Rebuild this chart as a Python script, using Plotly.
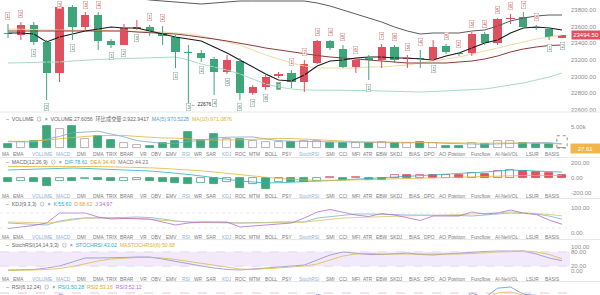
import plotly.graph_objects as go

# ---------------- data ----------------
opens  = [23524,23500,23620,23416,23044,23836,23596,23740,23428,23380,23572,23596,23524,23476,23296,23284,23212,23056,23188,22804,22876,23008,23044,22936,23164,23428,23332,23116,23212,23200,23356,23212,23224,23212,23368,23284,23284,23512,23404,23692,23716,23596,23572,23470]
closes = [23512,23620,23416,23044,23836,23596,23740,23428,23380,23584,23596,23536,23488,23296,23284,23224,23056,23200,22804,22876,22996,23032,22936,23152,23428,23344,23116,23200,23206,23356,23200,23224,23212,23356,23296,23272,23512,23404,23692,23704,23596,23584,23476,23494.5]
highs  = [23632,23656,23656,23440,23884,23860,23776,23776,23452,23632,23680,23620,23608,23500,23380,23320,23236,23260,23224,22900,23020,23056,23080,23200,23440,23440,23380,23224,23260,23392,23380,23260,23320,23440,23392,23296,23536,23536,23704,23752,23776,23620,23596,23500]
lows   = [23464,23440,23380,22720,22936,23440,23536,23320,23344,23380,23560,23488,23380,23104,22676,23176,22780,23032,22720,22780,22840,22984,22864,22816,23152,23320,23104,23044,22960,23104,23164,23104,23104,23188,23272,23248,23248,23380,23380,23632,23584,23560,23440,23460]

boll_up  = [23944,23944,23956,23968,23968,23968,23968,23956,23956,23944,23944,23920,23908,23896,23884,23872,23884,23896,23908,23908,23908,23908,23908,23908,23884,23848,23800,23752,23704,23656,23596,23548,23512,23524,23524,23524,23548,23560,23608,23668,23704,23728,23740,23740]
boll_mid = [23548,23548,23548,23542,23548,23548,23548,23548,23548,23548,23536,23530,23524,23512,23494,23476,23452,23428,23404,23374,23344,23320,23296,23272,23254,23236,23224,23212,23200,23188,23176,23164,23164,23164,23164,23176,23188,23212,23248,23296,23332,23356,23374,23380]
boll_dn  = [23164,23164,23170,23176,23176,23188,23200,23206,23212,23218,23224,23224,23230,23236,23200,23152,23116,23080,23032,22972,22912,22876,22852,22840,22840,22840,22840,22840,22834,22828,22822,22816,22816,22822,22828,22834,22840,22852,22876,22900,22924,22960,22996,23044]
ma_fast  = [23524,23524,23512,23416,23476,23512,23548,23572,23596,23584,23584,23548,23512,23476,23452,23428,23356,23284,23200,23116,23032,22960,22948,23020,23128,23188,23200,23224,23236,23236,23224,23224,23212,23200,23248,23284,23344,23404,23440,23524,23584,23596,23584,23560]
ma_slow  = [23572,23572,23566,23560,23560,23560,23560,23554,23554,23548,23548,23542,23536,23524,23512,23488,23452,23416,23380,23320,23260,23212,23164,23128,23104,23104,23104,23104,23116,23116,23128,23140,23164,23188,23212,23236,23272,23308,23344,23380,23416,23452,23476,23500]

td_idx  = list(range(44))
td_text = ["1","2","1","2","3","1","3","4","1","2","3","1","2","1","3","2","4","5","6","7","8","9","1","2","3","4","5","6","1","7","8","3","4","1","5","2","3","4","5","6","7","8","1","2"]
td_side = ["a","a","b","b","a","b","a","a","b","b","b","a","a","b","b","b","b","b","b","b","b","b","a","a","a","a","a","a","b","a","a","a","a","b","a","a","a","a","a","a","a","a","b","b"]

volume   = [950,1430,1670,5240,4520,5240,2140,2860,1900,1190,710,480,1190,1670,3810,1900,3330,2140,2140,1670,1430,1430,1430,1670,1670,1190,1190,1190,1190,1430,1190,1190,1430,1190,480,480,1190,950,1670,1670,1190,950,950,27.6056]
vol_proj = 2922.9417
vol_ma5  = [1500,1400,1450,2100,2760,3620,3760,4000,3330,2660,1760,1430,1090,1050,1570,1810,2370,2570,2660,2640,2140,1760,1620,1530,1530,1480,1430,1380,1290,1240,1240,1240,1290,1290,1100,950,950,860,950,1190,1290,1290,1290,970.5228]
vol_ma10 = [1600,1600,1600,1900,2200,2600,2750,2950,3000,3000,2750,2500,2400,2350,2100,1950,1900,1850,1950,2060,2250,2300,2250,2200,2000,1800,1600,1500,1450,1400,1360,1310,1330,1290,1250,1180,1180,1150,1170,1250,1200,1120,1100,971.0876]

macd_dif  = [107,112,117,123,128,133,128,123,117,112,107,93,80,67,47,27,4,-17,-40,-53,-67,-63,-57,-53,-44,-36,-27,-16,-7,4,13,23,31,40,49,57,67,80,93,107,100,93,87,78.61]
macd_dea  = [153,153,156,160,160,160,157,153,149,147,141,136,128,120,109,96,80,63,43,24,7,-7,-17,-27,-31,-32,-31,-27,-21,-16,-11,-4,1,7,12,16,20,24,27,31,33,34.5,34.5,34.49]
macd_hist = [-53,-40,-53,-107,-40,-40,-9,-27,-40,-35,-30,-38,-53,-67,-80,-67,-80,-53,-133,-80,-147,-53,-53,-53,-40,7,-27,13,-27,-27,40,36,42,38,40,38,67,53,87,107,93,80,67,44.23]

kdj_k = [40,38,36,32,48,56,60,60,60,62,64,62,56,48,44,44,44,42,40,40,42,44,44,44,60,66,72,76,76,74,72,72,72,72,72,70,68,72,76,80,78,76,68,55.60]
kdj_d = [44,42,42,40,44,52,60,60,60,60,58,54,50,46,44,42,40,40,40,40,40,40,42,44,50,56,60,62,64,66,68,68,70,70,72,72,74,76,80,84,82,78,74,68.62]
kdj_j = [18,24,30,40,80,80,80,64,56,58,58,56,44,32,40,44,44,44,24,28,32,36,40,60,84,94,84,72,66,78,72,60,50,68,68,68,84,76,80,92,80,74,52,34.97]

stoch_rsi   = [4.2,4.2,6.3,12.5,20.8,37.5,54.2,54.2,54.2,56.3,58.3,58.3,50,39.6,31.3,20.8,12.5,6.3,4.2,8.3,12.5,16.7,20.8,25,45.8,66.7,79.2,75,68.8,68.8,72.9,75,68.8,66.7,70.8,75,77.1,81.3,83.3,83.3,83.3,70.8,54.2,43.02]
stoch_rsi_m = [2.1,2.1,4.2,6.3,10.4,18.8,31.3,41.7,50,54.2,56.3,56.3,54.2,47.9,39.6,31.3,22.9,14.6,8.3,6.3,8.3,12.5,16.7,20.8,29.2,45.8,62.5,70.8,72.9,70.8,70.8,70.8,70.8,68.8,68.8,70.8,72.9,77.1,79.2,81.3,83.3,79.2,68.8,50.68]

rsi1 = [55,58,52,40,68,62,66,55,52,60,60,55,52,42,40,38,32,45,30,38,45,48,42,55,68,62,52,56,55,62,52,55,54,62,56,55,70,62,78,80,68,66,55,50.28]
rsi2 = [54,55,53,46,60,58,60,55,53,57,57,55,53,47,45,43,38,44,36,40,44,46,44,51,60,58,53,55,54,58,53,54,54,58,55,55,64,60,70,72,66,64,58,53.16]
rsi3 = [53,54,53,49,56,55,57,54,53,55,55,54,53,49,48,47,44,46,42,43,45,46,45,49,54,54,52,53,53,55,53,53,53,55,54,54,59,57,63,65,62,61,57,52.12]

price_ticks = [23800, 23600, 23400, 23200, 23000, 22800, 22600]
tabs = ["MA","EMA","VOLUME","MACD","DMI","DMA","TRIX","BRAR","VR","OBV","EMV","RSI","WR","SAR","KDJ","ROC","MTM","BOLL","PSY","StochRSI","SMI","CCI","MFI","ATR","EBW","SKDJ","BIAS","DPO","AO","Position","Funcflow","AI-NetVOL","LSUR","BASIS"]
active_tabs = {"VOLUME","MACD","RSI","KDJ","StochRSI"}

# ---------------- styling / layout helpers ----------------
H = 295
PW = 570
RED = "#e0505e"
GREEN = "#3fa57a"
TEAL = "#2aaec4"
YEL = "#e3b23c"
PUR = "#b36ad6"
FONT = "Liberation Sans, Arial, Noto Sans CJK SC, sans-serif"
tab_cx = [6,18,42,63,81,98,112,127,143,156,171,186,198,211,227,240,254,271,287,309,330,343,356,368,381,397,414,429,442,456,481,507,532,552]

def dom(top, bot):
    return [1 - bot / H, 1 - top / H]

def rng(top, bot, v1, p1, v2, p2):
    k = (p2 - p1) / (v2 - v1)
    return [v1 + (bot - p1) / k, v1 + (top - p1) / k]

n = len(opens)
idx = list(range(n))
up = [c >= o for o, c in zip(opens, closes)]

fig = go.Figure()

for ser, col, w in ((boll_up, "#5b5b5b", 1), (boll_dn, "#a8dcc4", 1), (ma_slow, "#f1d9a0", 1),
                    (boll_mid, "#8b3a3a", 1), (ma_fast, "#1a1a1a", 1.1)):
    fig.add_trace(go.Scatter(x=idx, y=ser, mode="lines", line=dict(color=col, width=w),
                             xaxis="x", yaxis="y", hoverinfo="skip"))

# candle wicks and bodies
for flag, col in ((True, RED), (False, GREEN)):
    wx, wy = [], []
    for i in idx:
        if up[i] == flag:
            wx += [i, i, None]
            wy += [lows[i], highs[i], None]
    fig.add_trace(go.Scatter(x=wx, y=wy, mode="lines", line=dict(color=col, width=1),
                             xaxis="x", yaxis="y", hoverinfo="skip"))
fig.add_trace(go.Bar(
    x=idx, base=[min(o, c) for o, c in zip(opens, closes)],
    y=[max(abs(c - o), 10) for o, c in zip(opens, closes)],
    width=0.64, marker=dict(color=[RED if u else GREEN for u in up], line=dict(width=0)),
    xaxis="x", yaxis="y", hoverinfo="skip"))

# volume
fig.add_trace(go.Bar(
    x=idx, y=volume, width=0.62,
    marker=dict(color=["rgba(255,255,255,0)" if u else GREEN for u in up],
                line=dict(color=["#a99" if u else GREEN for u in up], width=0.8)),
    xaxis="x2", yaxis="y2", hoverinfo="skip"))
fig.add_trace(go.Scatter(x=idx, y=vol_ma5, mode="lines", line=dict(color="#7fa6c9", width=0.8), xaxis="x2", yaxis="y2"))
fig.add_trace(go.Scatter(x=idx, y=vol_ma10, mode="lines", line=dict(color=YEL, width=0.8), xaxis="x2", yaxis="y2"))

# MACD
hist_fill, hist_line = [], []
for i, h in enumerate(macd_hist):
    col = RED if h >= 0 else GREEN
    rising = i > 0 and h > macd_hist[i - 1]
    hist_fill.append("rgba(255,255,255,0)" if rising else col)
    hist_line.append(col)
fig.add_trace(go.Bar(x=idx, y=macd_hist, width=0.62,
                     marker=dict(color=hist_fill, line=dict(color=hist_line, width=0.8)),
                     xaxis="x3", yaxis="y3", hoverinfo="skip"))
fig.add_trace(go.Scatter(x=idx, y=macd_dif, mode="lines", line=dict(color=TEAL, width=0.8), xaxis="x3", yaxis="y3"))
fig.add_trace(go.Scatter(x=idx, y=macd_dea, mode="lines", line=dict(color=YEL, width=0.8), xaxis="x3", yaxis="y3"))

# KDJ
for ser, col in ((kdj_k, "#7fb3c8"), (kdj_d, "#d9c36a"), (kdj_j, PUR)):
    fig.add_trace(go.Scatter(x=idx, y=ser, mode="lines", line=dict(color=col, width=0.8), xaxis="x4", yaxis="y4"))
# StochRSI
for ser, col in ((stoch_rsi, "#8f8fc8"), (stoch_rsi_m, "#e0b84a")):
    fig.add_trace(go.Scatter(x=idx, y=ser, mode="lines", line=dict(color=col, width=0.8), xaxis="x5", yaxis="y5"))
# RSI
for ser, col in ((rsi1, "#6a8fd0"), (rsi2, YEL), (rsi3, PUR)):
    fig.add_trace(go.Scatter(x=idx, y=ser, mode="lines", line=dict(color=col, width=0.8), xaxis="x6", yaxis="y6"))

# ---------------- axes ----------------
panels = [
    ("", [0, 112], (23800, 10, 22600, 110), price_ticks, [f"{v:.2f}" for v in price_ticks]),
    ("2", [112, 153], (5000, 127, 0, 148), [5000], ["5.00k"]),
    ("3", [158, 195], (200, 163, 0, 178), [200, 0, -200], ["200.00", "0.00", "-200.00"]),
    ("4", [199, 236], (100, 208, 0, 233), [100, 0], ["100.00", "0.00"]),
    ("5", [240, 277], (100, 247, 0, 271), [100, 80, 20, 0], ["100.00", "80.00", "20.00", "0.00"]),
    ("6", [282, 295], (70, 293, 30, 317), [70], ["70.00"]),
]
layout = {}
main_range = None
for suf, (t, b), ref, tv, tt in panels:
    r = rng(t, b, *ref)
    if suf == "":
        main_range = r
    layout["xaxis" + suf] = dict(range=[-0.62, 43.62], visible=False, domain=[0, 1],
                                 anchor="y" + suf, **({} if suf == "" else {"matches": "x"}))
    layout["yaxis" + suf] = dict(domain=dom(t, b), range=r, side="right",
                                 anchor="x" + suf, showgrid=False, zeroline=False, showline=False,
                                 ticks="", tickvals=tv, ticktext=tt, fixedrange=True,
                                 tickfont=dict(size=6, color="#8c8c8c", family=FONT))

def main_px(v):
    lo, hi = main_range
    return (hi - v) / (hi - lo) * 112

shapes = []
for ypx in (112, 157.5, 198.5, 239.5, 281.5):
    shapes.append(dict(type="line", xref="paper", yref="paper", x0=0, x1=600 / PW,
                       y0=1 - ypx / H, y1=1 - ypx / H, line=dict(color="#e8e8e8", width=1)))
shapes.append(dict(type="rect", xref="x5", yref="y5", x0=-0.62, x1=43.62, y0=20, y1=80,
                   fillcolor="#f2eafb", line=dict(width=0), layer="below"))
for v in (80, 20):
    shapes.append(dict(type="line", xref="x5", yref="y5", x0=-0.62, x1=43.62, y0=v, y1=v,
                       line=dict(color="#d9c9ef", width=0.6, dash="dash")))
    shapes.append(dict(type="line", xref="x4", yref="y4", x0=-0.62, x1=43.62, y0=v, y1=v,
                       line=dict(color="#dddddd", width=0.6, dash="dot")))
shapes.append(dict(type="line", xref="x6", yref="y6", x0=-0.62, x1=43.62, y0=70, y1=70,
                   line=dict(color="#e3a6c8", width=0.7, dash="dash")))
shapes.append(dict(type="rect", xref="x2", yref="y2", x0=n - 1 - 0.4, x1=n - 1 + 0.4, y0=0, y1=vol_proj,
                   line=dict(color="#777", width=0.8, dash="dot")))

ann = []
def px_x(x):
    return x / PW
def px_y(y):
    return 1 - y / H

# TD count labels (kept inside the price pane)
for i, t, s in zip(td_idx, td_text, td_side):
    above = s == "a"
    filled = (t == "9")
    v = highs[i] if above else lows[i]
    shift = 8 if above else -8
    centre = main_px(v) - shift
    if centre < 5:
        shift = main_px(v) - 5
    if centre > 107:
        shift = main_px(v) - 107
    ann.append(dict(x=i, y=v, xref="x", yref="y", text=t, showarrow=False,
                    yshift=shift, font=dict(size=5, family=FONT,
                    color="#fff" if filled else ("#c0504d" if above else "#4e8f78")),
                    bgcolor=GREEN if filled else "#ffffff",
                    bordercolor="#e2a3a3" if above else "#9fb8ae", borderwidth=0.6, borderpad=0.6))
low_i = lows.index(min(lows))
ann.append(dict(x=low_i, y=lows[low_i], xref="x", yref="y", text="← " + str(int(min(lows))),
                showarrow=False, xanchor="left", xshift=1, font=dict(size=5, color="#333", family=FONT)))

# price / volume labels
ann.append(dict(x=1, y=closes[-1], xref="paper", yref="y", text=f"{closes[-1]:.2f}", showarrow=False,
                xanchor="left", xshift=1, font=dict(size=6, color="#fff", family=FONT),
                bgcolor=RED, borderpad=1.2))
ann.append(dict(x=1, y=0, xref="paper", yref="y2", text=f"{volume[-1]:.2f}", showarrow=False,
                xanchor="left", xshift=0, font=dict(size=6, color="#fff", family=FONT),
                bgcolor="#f0b64a", borderpad=1.5, width=26))

# tab rows
for ypx in (154.5, 196, 237.5, 279):
    for name, cx in zip(tabs, tab_cx):
        ann.append(dict(x=px_x(cx), y=px_y(ypx), xref="paper", yref="paper", text=name, showarrow=False,
                        xanchor="center", yanchor="middle",
                        font=dict(size=4.8, family=FONT, color="#8fb0d3" if name in active_tabs else "#7a7a7a")))

def span(t, c):
    return f"<span style='color:{c}'>{t}</span>"

headers = [
    (119, span("–  VOLUME  ⊙  ×", "#666") + "  " + span("VOLUME:27.6056", "#666") + "  " +
          span("环比成交量:2,922.9417", "#666") + "  " + span("MA(5):970.5228", "#4f9fc9") + "  " +
          span("MA(10):971.0876", YEL)),
    (162, span("–  MACD(12,26,9)  ⊙  ×", "#666") + "  " + span("DIF:78.61", TEAL) + "  " +
          span("DEA:34.49", "#e0a030") + "  " + span("MACD:44.23", "#777")),
    (204, span("–  KDJ(9,3,3)  ⊙  ×", "#666") + "  " + span("K:55.60", TEAL) + "  " +
          span("D:68.62", "#e0a030") + "  " + span("J:34.97", PUR)),
    (245, span("–  StochRSI(14,14,3,3)  ⊙  ×", "#666") + "  " + span("STOCHRSI:43.02", TEAL) + "  " +
          span("MASTOCHRSI(6):50.68", "#e0b030")),
    (287, span("–  RSI(6,12,24)  ⊙  ×", "#666") + "  " + span("RSI1:50.28", TEAL) + "  " +
          span("RSI2:53.16", "#e0a030") + "  " + span("RSI3:52.12", PUR)),
]
for ypx, txt in headers:
    ann.append(dict(x=px_x(4), y=px_y(ypx), xref="paper", yref="paper", text=txt, showarrow=False,
                    xanchor="left", yanchor="middle", font=dict(size=5.2, family=FONT, color="#666")))

fig.update_layout(
    width=600, height=295, margin=dict(l=0, r=600 - PW, t=0, b=0),
    paper_bgcolor="white", plot_bgcolor="white", showlegend=False,
    barmode="overlay", bargap=0, shapes=shapes, annotations=ann,
    font=dict(family=FONT), **layout)

fig.write_html("out.html", config={"displayModeBar": False})
